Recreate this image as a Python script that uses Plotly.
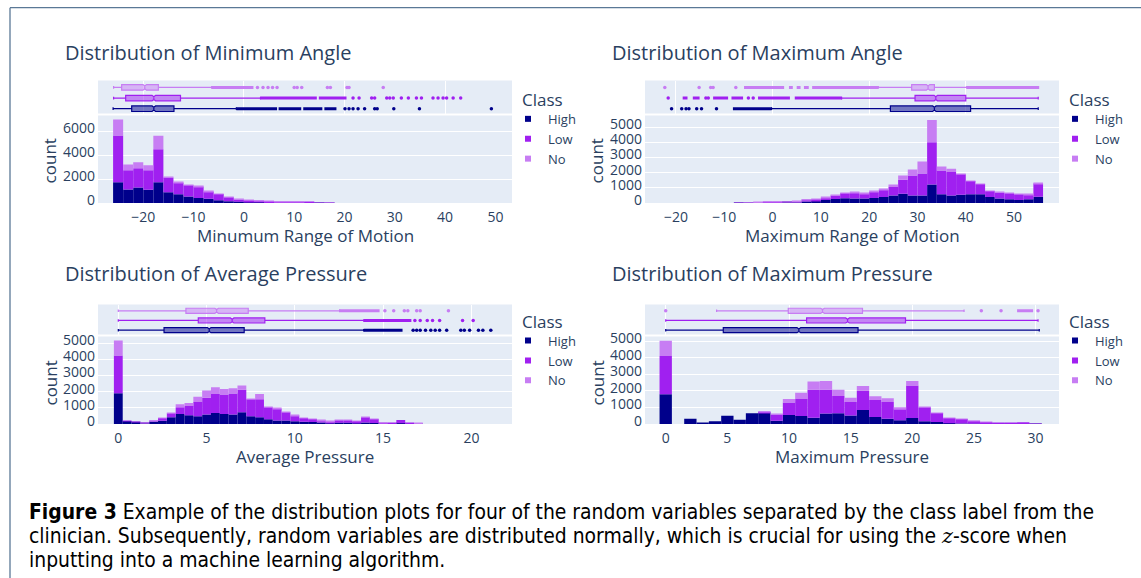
import plotly.graph_objects as go

W, H = 1141, 578

# ---------------- data ----------------
classes = ["High", "Low", "No"]
class_colors = ["#00008B", "#A020F0", "#C77DF3"]
class_fill = ["rgba(0,0,139,0.5)", "rgba(160,32,240,0.5)", "rgba(199,125,243,0.5)"]

# --- Minimum angle (bin width 2) ---
minang_bins = [-25, -23, -21, -19, -17, -15, -13, -11, -9, -7, -5, -3, -1, 1, 3, 5, 7, 9, 11, 13, 15, 17]
minang_high = [1740, 1130, 1300, 1110, 1740, 890, 720, 550, 410, 360, 220, 140, 110, 80, 50, 40, 30, 20, 20, 10, 10, 10]
minang_low = [3900, 1610, 1600, 1630, 2740, 1240, 970, 940, 950, 580, 530, 330, 190, 140, 120, 100, 80, 60, 40, 40, 30, 10]
minang_no = [1330, 470, 500, 410, 1140, 60, 50, 30, 20, 30, 20, 30, 30, 30, 20, 10, 10, 10, 10, 0, 0, 10]

# --- Maximum angle (bin width 2) ---
maxang_bins = [-7, -5, -3, -1, 1, 3, 5, 7, 9, 11, 13, 15, 17, 19, 21, 23, 25, 27, 29, 31, 33, 35, 37, 39, 41, 43, 45, 47, 49, 51, 53, 55]
maxang_high = [5, 5, 10, 20, 20, 40, 50, 100, 150, 200, 270, 320, 300, 300, 330, 400, 500, 610, 500, 500, 1230, 570, 500, 550, 570, 570, 400, 300, 250, 200, 250, 410]
maxang_low = [15, 20, 20, 20, 20, 30, 40, 70, 100, 150, 230, 320, 380, 300, 400, 460, 550, 920, 1320, 1450, 2780, 1580, 1540, 1350, 880, 680, 400, 400, 400, 370, 300, 870]
maxang_no = [0, 5, 10, 20, 10, 10, 10, 20, 20, 20, 30, 40, 40, 30, 40, 50, 180, 290, 390, 790, 1470, 260, 220, 10, 20, 20, 20, 20, 20, 20, 20, 80]

# --- Average pressure (bin width 0.5) ---
avgp_bins = [0, 0.5, 1, 1.5, 2, 2.5, 3, 3.5, 4, 4.5, 5, 5.5, 6, 6.5, 7, 7.5, 8, 8.5, 9, 9.5, 10, 10.5, 11, 11.5,
             12, 12.5, 13, 13.5, 14, 14.5, 15, 15.5, 16, 16.5, 17]
avgp_high = [1900, 190, 140, 40, 160, 200, 410, 620, 540, 480, 580, 680, 620, 580, 720, 480, 410, 290, 210, 210, 170, 140, 120, 100,
             80, 80, 80, 70, 100, 60, 20, 20, 50, 20, 10]
avgp_low = [2340, 10, 10, 10, 10, 170, 250, 410, 580, 880, 1050, 1180, 1200, 1300, 1390, 1050, 1120, 740, 740, 510, 350, 230, 190, 110,
            70, 150, 150, 120, 310, 250, 30, 40, 200, 60, 0]
avgp_no = [930, 0, 0, 30, 10, 10, 10, 190, 180, 330, 440, 410, 350, 330, 270, 40, 330, 40, 40, 40, 40, 20, 10, 10,
           10, 10, 10, 10, 10, 10, 10, 0, 0, 0, 30]

# --- Maximum pressure (bin width 1) ---
maxp_bins = list(range(0, 31))
maxp_high = [1790, 0, 320, 60, 160, 500, 260, 650, 690, 200, 540, 480, 380, 630, 650, 520, 850, 420, 320, 220, 360, 160, 120, 50, 30, 20, 10, 10, 5, 10, 5]
maxp_low = [2320, 0, 0, 0, 0, 0, 0, 0, 20, 380, 750, 1030, 1680, 1430, 1040, 810, 1150, 1030, 1010, 670, 1960, 850, 550, 310, 270, 180, 110, 50, 45, 90, 25]
maxp_no = [910, 0, 0, 0, 0, 0, 0, 0, 20, 10, 220, 370, 500, 540, 370, 260, 300, 220, 220, 120, 280, 10, 10, 10, 10, 10, 10, 0, 0, 0, 0]

# --- Box statistics, order [High, Low, No] ---
minang_lf = [-26.0, -25.9, -25.9]
minang_q1 = [-22.3, -23.5, -24.3]
minang_med = [-17.9, -17.9, -19.7]
minang_q3 = [-13.9, -12.6, -17.0]
minang_uf = [-1.5, 3.3, -6.4]

maxang_lf = [-0.2, 14.3, 21.9]
maxang_q1 = [24.4, 29.5, 28.8]
maxang_med = [33.5, 33.8, 32.2]
maxang_q3 = [41.0, 40.0, 33.5]
maxang_uf = [55.0, 55.0, 40.2]

avgp_lf = [0.0, 0.0, 0.0]
avgp_q1 = [2.59, 4.53, 3.83]
avgp_med = [5.15, 6.45, 5.57]
avgp_q3 = [7.13, 8.30, 7.36]
avgp_uf = [13.9, 13.9, 12.55]

maxp_lf = [0.0, 0.0, 4.13]
maxp_q1 = [4.67, 11.43, 9.94]
maxp_med = [10.8, 14.75, 12.72]
maxp_q3 = [15.6, 19.45, 15.96]
maxp_uf = [30.3, 30.2, 24.2]

# --- Outliers: isolated points and dense runs [start, end], order [High, Low, No] ---
minang_out = [
    [20.1, 20.9, 21.7, 22.7, 24.0, 26.0, 26.5, 29.8, 34.9, 49.2],
    [21.7, 22.9, 25.4, 26.0, 28.4, 29.0, 29.7, 31.3, 32.7, 34.3, 35.3, 37.6, 38.6, 39.6, 40.3, 41.6, 43.1],
    [2.7, 3.8, 4.8, 5.7, 6.6, 10.0, 10.6, 11.5, 16.6, 17.2, 20.5, 20.9, 27.7],
]
minang_runs = [
    [[-1.5, 6.6], [6.9, 11.4], [11.8, 15.6], [16.0, 18.4]],
    [[3.3, 14.5], [14.9, 20.4]],
    [[-6.4, 1.9]],
]
maxang_out = [
    [-20.9, -18.8, -17.9, -17.3, -15.7, -14.7, -11.6],
    [-21.6, -13.8, -13.3, -5.0, -4.0],
    [-22.3, -15.2, -12.8, -12.3, -7.6],
]
maxang_runs = [
    [[-8.2, -0.2]],
    [[-18.6, -17.6], [-16.5, -15.1], [-12.3, -9.2], [-8.5, -6.1], [-3.0, 3.6], [4.6, 14.3]],
    [[-5.9, 2.4], [3.4, 4.2], [5.0, 5.8], [6.5, 7.5], [8.2, 21.9], [40.2, 55.2]],
]
avgp_out = [
    [16.7, 16.9, 17.1, 17.4, 17.7, 17.95, 18.2, 18.6, 19.4, 19.6, 19.9, 20.4, 20.65, 21.1],
    [16.8, 17.1, 17.5, 17.8, 18.2, 19.5, 20.1],
    [15.1, 15.6, 16.2, 16.4, 16.9, 17.1, 18.7],
]
avgp_runs = [
    [[13.9, 16.1]],
    [[13.9, 16.6]],
    [[12.5, 14.8]],
]
maxp_out = [
    [],
    [],
    [0.0, 25.6, 27.2, 30.2],
]
maxp_runs = [
    [],
    [],
    [[28.5, 29.8]],
]

caption_lines = [
    "<b>Figure 3</b> Example of the distribution plots for four of the random variables separated by the class label from the",
    "clinician. Subsequently, random variables are distributed normally, which is crucial for using the "
    "<i><span style=\"font-family:'DejaVu Serif'\">z</span></i>-score when",
    "inputting into a machine learning algorithm.",
]

panels = [
    dict(title="Distribution of Minimum Angle", xtitle="Minumum Range of Motion",
         bins=minang_bins, width=2, counts=[minang_high, minang_low, minang_no],
         stats=[minang_lf, minang_q1, minang_med, minang_q3, minang_uf], notch=0.35,
         out=minang_out, runs=minang_runs,
         xrange=[-29.0, 53.3], yrange=[0, 7300], dtick_y=2000, dtick_x=10,
         px_x=[98, 512], px_box=[80.5, 113.5], px_hist=[115.5, 203], px_title=52, px_xt=235,
         px_count=160.9, px_class=99.8, px_leg=103.9),
    dict(title="Distribution of Maximum Angle", xtitle="Maximum Range of Motion",
         bins=maxang_bins, width=2, counts=[maxang_high, maxang_low, maxang_no],
         stats=[maxang_lf, maxang_q1, maxang_med, maxang_q3, maxang_uf], notch=0.35,
         out=maxang_out, runs=maxang_runs,
         xrange=[-26.4, 59.3], yrange=[0, 5780], dtick_y=1000, dtick_x=10,
         px_x=[645, 1059], px_box=[80.5, 113.5], px_hist=[115.5, 203], px_title=52, px_xt=235,
         px_count=160.9, px_class=99.8, px_leg=103.9),
    dict(title="Distribution of Average Pressure", xtitle="Average Pressure",
         bins=avgp_bins, width=0.5, counts=[avgp_high, avgp_low, avgp_no],
         stats=[avgp_lf, avgp_q1, avgp_med, avgp_q3, avgp_uf], notch=0.1,
         out=avgp_out, runs=avgp_runs,
         xrange=[-1.15, 22.3], yrange=[0, 5410], dtick_y=1000, dtick_x=5,
         px_x=[98, 512], px_box=[304.5, 334.5], px_hist=[336.5, 424], px_title=274, px_xt=456,
         px_count=383, px_class=321.1, px_leg=325.6),
    dict(title="Distribution of Maximum Pressure", xtitle="Maximum Pressure",
         bins=maxp_bins, width=1, counts=[maxp_high, maxp_low, maxp_no],
         stats=[maxp_lf, maxp_q1, maxp_med, maxp_q3, maxp_uf], notch=0.15,
         out=maxp_out, runs=maxp_runs,
         xrange=[-1.68, 31.9], yrange=[0, 5280], dtick_y=1000, dtick_x=5,
         px_x=[645, 1059], px_box=[304.5, 334.5], px_hist=[336.5, 424], px_title=274, px_xt=456,
         px_count=383, px_class=321.1, px_leg=325.6),
]

FONT = "Open Sans, verdana, arial, sans-serif"
TXT = "#2a3f5f"


def fx(p):
    return p / W


def fy(p):
    return 1 - p / H


fig = go.Figure()
layout = dict(
    width=W, height=H, margin=dict(l=0, r=0, t=0, b=0, autoexpand=False),
    paper_bgcolor="white", plot_bgcolor="#E5ECF6",
    font=dict(family=FONT, color=TXT, size=14),
    barmode="relative", showlegend=True,
)
annotations = []

for i, p in enumerate(panels):
    hx = 2 * i + 1          # histogram axes number
    bx = 2 * i + 2          # box axes number
    hxn = "x" if hx == 1 else f"x{hx}"
    hyn = "y" if hx == 1 else f"y{hx}"
    bxn, byn = f"x{bx}", f"y{bx}"
    lg = "legend" if i == 0 else f"legend{i + 1}"

    # stacked histogram bars
    for c in range(3):
        fig.add_trace(go.Bar(
            x=p["bins"], y=p["counts"][c], width=p["width"], name=classes[c],
            marker=dict(color=class_colors[c], line=dict(width=0)),
            xaxis=hxn, yaxis=hyn, showlegend=False,
            hovertemplate=classes[c] + ": %{y}<extra></extra>",
        ))
    # marginal boxes
    lf, q1, med, q3, uf = p["stats"]
    for c in range(3):
        fig.add_trace(go.Box(
            y=[c], q1=[q1[c]], median=[med[c]], q3=[q3[c]], lowerfence=[lf[c]], upperfence=[uf[c]],
            notched=True, notchspan=[p["notch"]], orientation="h", width=0.52,
            line=dict(color=class_colors[c], width=1.2), fillcolor=class_fill[c],
            boxpoints=False, xaxis=bxn, yaxis=byn, showlegend=False, name=classes[c],
        ))
        # dense outlier runs
        rx, ry = [], []
        for a, b in p["runs"][c]:
            rx += [a, b, None]
            ry += [c, c, None]
        if rx:
            fig.add_trace(go.Scatter(
                x=rx, y=ry, mode="lines", line=dict(color=class_colors[c], width=3),
                xaxis=bxn, yaxis=byn, showlegend=False, hoverinfo="skip",
            ))
        if p["out"][c]:
            fig.add_trace(go.Scatter(
                x=p["out"][c], y=[c] * len(p["out"][c]), mode="markers",
                marker=dict(color=class_colors[c], size=3.5),
                xaxis=bxn, yaxis=byn, showlegend=False, name=classes[c],
            ))
    # legend entries
    for c in range(3):
        fig.add_trace(go.Scatter(
            x=[None], y=[None], mode="markers", name=classes[c],
            marker=dict(color=class_colors[c], size=6, symbol="square"),
            xaxis=hxn, yaxis=hyn, legend=lg, showlegend=True,
        ))

    xd = [fx(p["px_x"][0]), fx(p["px_x"][1])]
    hk = "xaxis" if hx == 1 else f"xaxis{hx}"
    hyk = "yaxis" if hx == 1 else f"yaxis{hx}"
    layout[hk] = dict(domain=xd, anchor=hyn, range=p["xrange"], dtick=p["dtick_x"],
                      showgrid=False, zeroline=False, ticks="", tickfont=dict(size=14),
                      ticklabelstandoff=4, automargin=False)
    layout[hyk] = dict(domain=[fy(p["px_hist"][1]), fy(p["px_hist"][0])], anchor=hxn,
                       range=p["yrange"], dtick=p["dtick_y"], showgrid=True, gridcolor="white",
                       zeroline=False, ticks="", tickfont=dict(size=14),
                       ticklabelshift=-3, ticklabelstandoff=2, automargin=False)
    layout[f"xaxis{bx}"] = dict(domain=xd, anchor=byn, matches=hxn, showticklabels=False,
                                showgrid=True, gridcolor="white", zeroline=False, ticks="",
                                automargin=False)
    layout[f"yaxis{bx}"] = dict(domain=[fy(p["px_box"][1]), fy(p["px_box"][0])], anchor=bxn,
                                range=[-0.45, 2.65], showticklabels=False, showgrid=False,
                                zeroline=False, ticks="", automargin=False)
    right = p["px_x"][1]
    layout[lg] = dict(x=fx(right - 4), y=fy(p["px_leg"]), xanchor="left", yanchor="top",
                      font=dict(size=13), bgcolor="rgba(0,0,0,0)", tracegroupgap=0)
    annotations.append(dict(text="Class", x=fx(right + 8), y=fy(p["px_class"]),
                            xref="paper", yref="paper", xanchor="left", yanchor="middle",
                            showarrow=False, font=dict(size=17, color=TXT)))

    cx = (p["px_x"][0] + p["px_x"][1]) / 2
    annotations.append(dict(text=p["title"], x=fx(p["px_x"][0] - 35), y=fy(p["px_title"]),
                            xref="paper", yref="paper", xanchor="left", yanchor="middle",
                            showarrow=False, font=dict(size=20, color=TXT)))
    annotations.append(dict(text=p["xtitle"], x=fx(cx), y=fy(p["px_xt"]), xref="paper", yref="paper",
                            xanchor="center", yanchor="middle", showarrow=False,
                            font=dict(size=17, color=TXT)))
    annotations.append(dict(text="count", x=fx(p["px_x"][0] - 48.5), y=fy(p["px_count"]),
                            xref="paper", yref="paper",
                            xanchor="center", yanchor="middle", textangle=-90, showarrow=False,
                            font=dict(size=17, color=TXT)))

for line, yc in zip(caption_lines, [512.4, 536.0, 559.7]):
    annotations.append(dict(text=line, x=fx(27), y=fy(yc), xref="paper", yref="paper",
                            xanchor="left", yanchor="middle", align="left", showarrow=False,
                            font=dict(size=20.9, color="black",
                                      family="DejaVu Sans Condensed, Liberation Sans Narrow, DejaVu Sans")))
layout["annotations"] = annotations
layout["shapes"] = [
    dict(type="line", xref="paper", yref="paper", x0=fx(10), x1=fx(10), y0=fy(7.7), y1=0,
         line=dict(color="#5a7896", width=1.3)),
    dict(type="line", xref="paper", yref="paper", x0=fx(10), x1=1, y0=fy(7.7), y1=fy(7.7),
         line=dict(color="#5a7896", width=1.3)),
]
fig.update_layout(**layout)

page_js = "document.body.style.margin='0';document.body.style.overflow='hidden';"
fig.write_html("out.html", config={"displayModeBar": False}, post_script=page_js)
